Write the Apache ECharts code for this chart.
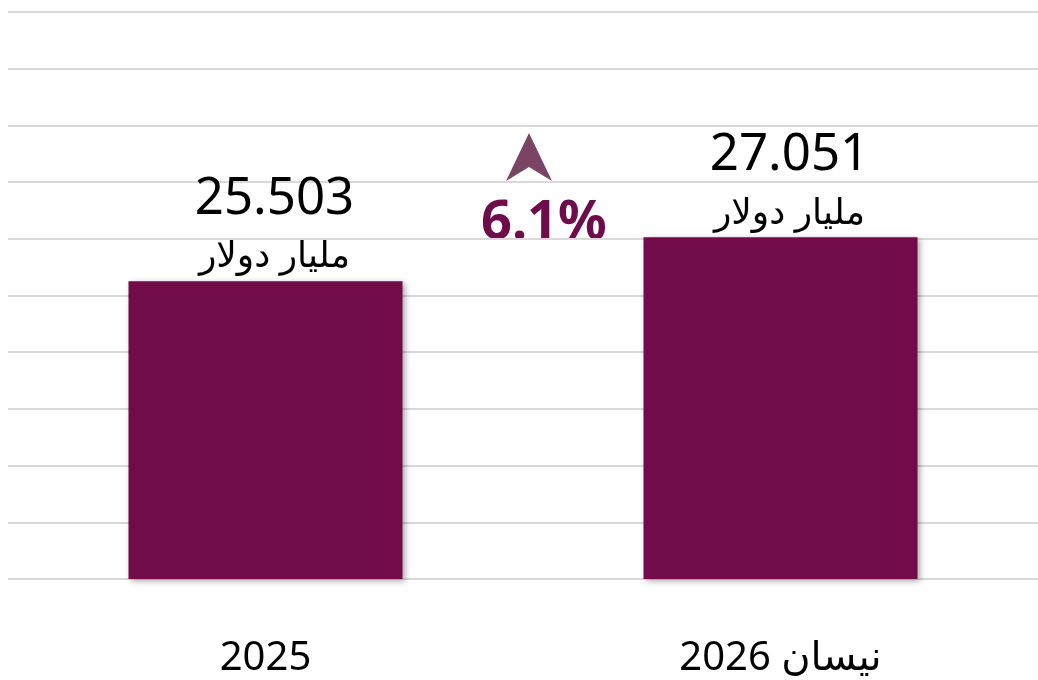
<!DOCTYPE html>
<html>
<head>
<meta charset="utf-8">
<script src="https://cdn.jsdelivr.net/npm/echarts@6/dist/echarts.min.js"></script>
<style>
  html, body { margin: 0; padding: 0; background: #fff; }
  #myChart { width: 1038px; height: 680px; }
</style>
</head>
<body>
<div id="myChart"></div>
<script>
// categories and values
var categories = ['2025', 'نيسان 2026'];
var values = [25.503, 27.051];
var unitText = 'مليار دولار';
var changeText = '6.1%';

var myChart = echarts.init(document.getElementById('myChart'));
window.onresize = myChart.resize;

var barColor = '#710b4a';
var font = '"Noto Sans", "DejaVu Sans", sans-serif';

myChart.setOption({
    backgroundColor: '#ffffff',
    animation: false,
    grid: {left: 8, width: 1036, top: 12, bottom: 101, containLabel: false},
    xAxis: {
        type: 'category',
        data: categories,
        axisLine: {show: false},
        axisTick: {show: false},
        axisLabel: {color: '#000', fontSize: 40, fontFamily: font, margin: 60}
    },
    yAxis: {
        type: 'value',
        min: 15, max: 35, interval: 2,
        axisLabel: {show: false},
        axisLine: {show: false},
        axisTick: {show: false},
        splitLine: {show: true, lineStyle: {color: '#d9d9d9', width: 2}}
    },
    series: [{
        type: 'bar',
        data: values,
        barWidth: 274,
        itemStyle: {
            color: barColor,
            shadowColor: 'rgba(0,0,0,0.35)',
            shadowBlur: 6,
            shadowOffsetX: 2,
            shadowOffsetY: 2
        },
        label: {
            show: true,
            position: 'top',
            distance: 0,
            offset: [9, 0],
            formatter: function (p) {
                return '{v|' + p.value.toFixed(3) + '}\n{u|' + unitText + '}';
            },
            rich: {
                v: {fontSize: 51, lineHeight: 68, color: '#000', fontFamily: font},
                u: {fontSize: 36, lineHeight: 48, color: '#000', fontFamily: font}
            }
        }
    }],
    graphic: [
        {
            type: 'polygon',
            shape: {points: [[529, 133], [552, 181], [529, 167], [506, 181]]},
            style: {fill: '#7a4565'}
        },
        {
            type: 'text',
            left: 481, top: 197,
            style: {text: changeText, fill: '#6e0b4a', font: 'bold 54px ' + font}
        }
    ]
});
</script>
</body>
</html>
